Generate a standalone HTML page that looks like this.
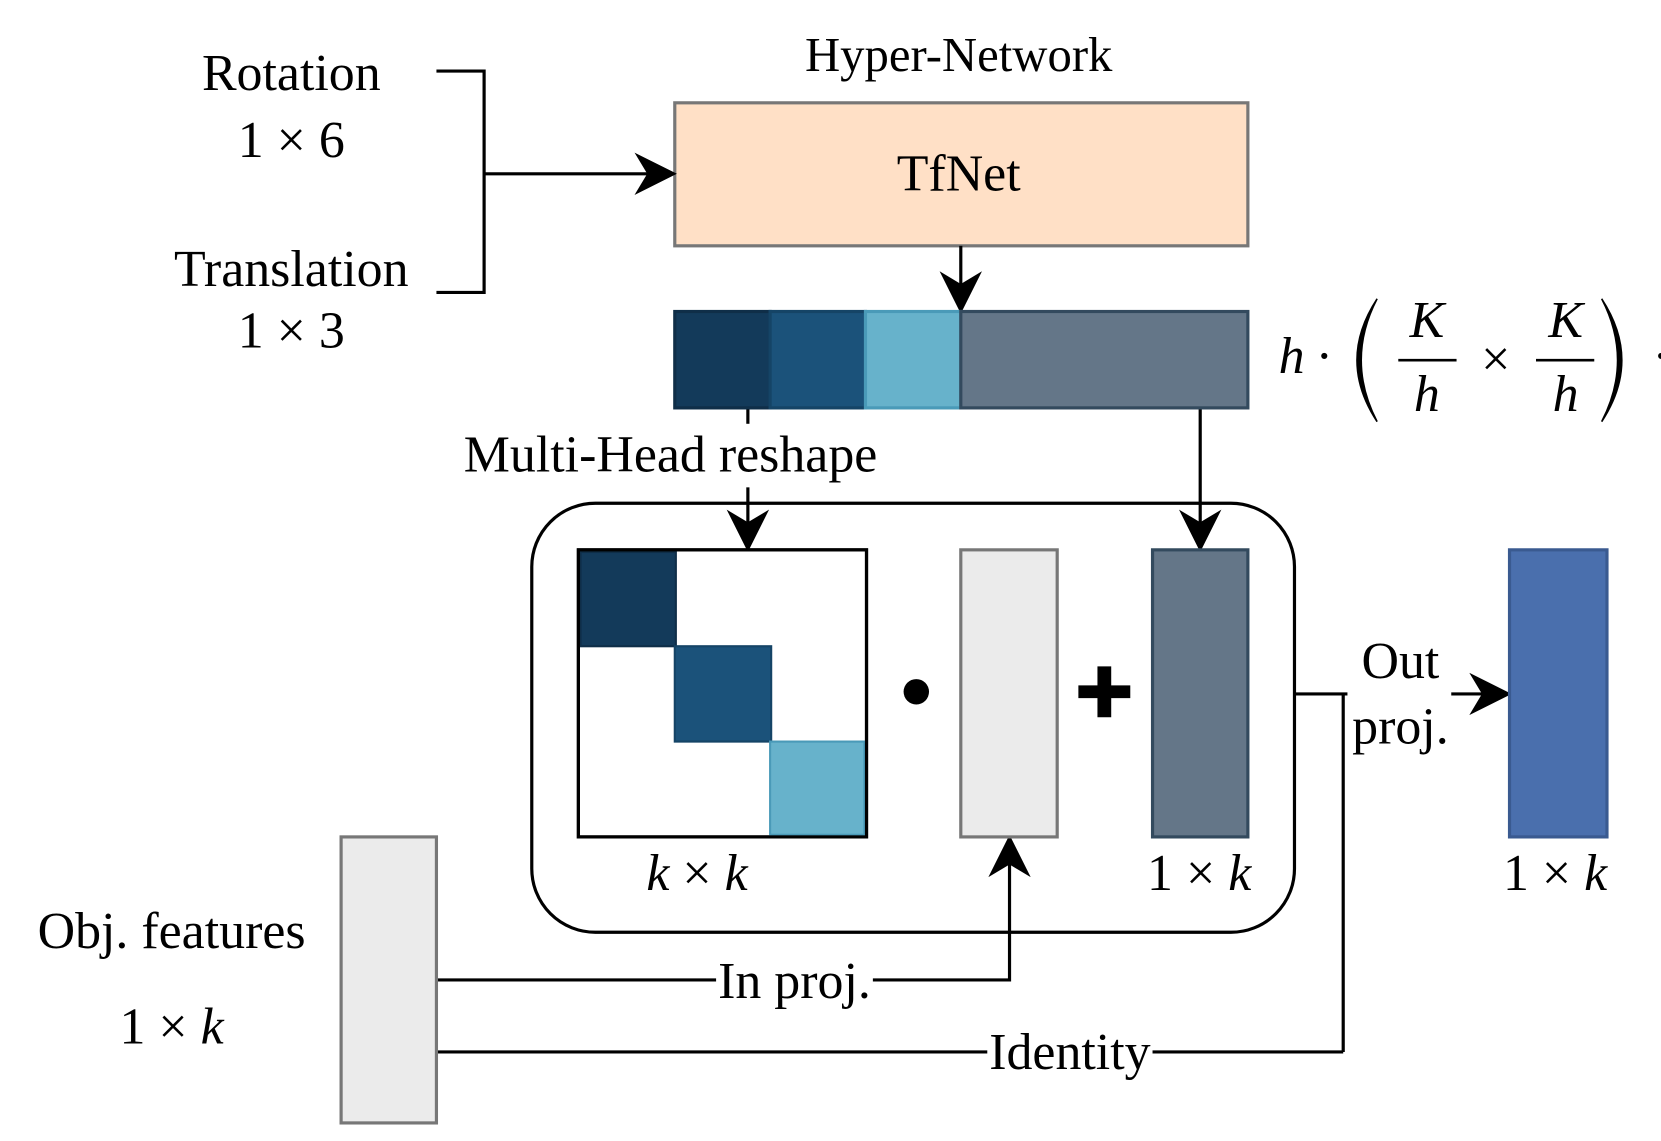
<!DOCTYPE html>
<html><head><meta charset="utf-8"><style>html,body{margin:0;padding:0;background:#fff;overflow:hidden}svg{display:block}</style></head><body>
<svg width="1661" height="1141" viewBox="0 0 1568 1077" xmlns="http://www.w3.org/2000/svg" font-family="'Liberation Serif', serif" font-size="49">
<defs>
<marker id="b" viewBox="0 0 10 10" refX="9" refY="5" markerWidth="40" markerHeight="40" markerUnits="userSpaceOnUse" orient="auto"><path d="M0,0 L10,5 L0,10 L3,5 z" fill="#000"/></marker></defs>
<rect width="1568" height="1077" fill="#fff"/>
<text x="905" y="67" text-anchor="middle" font-size="46">Hyper-Network</text>
<rect x="637" y="97" width="541" height="135" fill="#ffe0c6" stroke="#777" stroke-width="3"/>
<text x="905" y="180" text-anchor="middle">TfNet</text>
<g text-anchor="middle"><text x="275" y="85">Rotation</text><text x="275" y="148">1 × 6</text><text x="275" y="270">Translation</text><text x="275" y="328">1 × 3</text></g>
<g stroke="#000" stroke-width="3" fill="none">
<path d="M412,67 H457 V276 H412"/>
<line x1="457" y1="164" x2="635" y2="164" marker-end="url(#b)"/>
<line x1="907" y1="232" x2="907" y2="292" marker-end="url(#b)"/>
<line x1="706" y1="385" x2="706" y2="400"/>
<line x1="706" y1="460" x2="706" y2="517" marker-end="url(#b)"/>
<line x1="1133" y1="385" x2="1133" y2="517" marker-end="url(#b)"/>
<rect x="502" y="475" width="720" height="405" rx="60"/>
<path d="M1222,655 H1272 M1268,655 V993"/>
<line x1="1370" y1="655" x2="1423" y2="655" marker-end="url(#b)"/>
<path d="M412,925 H953 V792" marker-end="url(#b)"/>
<line x1="412" y1="993" x2="1268" y2="993"/>
</g>
<rect x="637" y="294" width="90" height="91" fill="#133a5a" stroke="#0f2e48" stroke-width="3"/>
<rect x="727" y="294" width="90" height="91" fill="#1b527a" stroke="#154466" stroke-width="3"/>
<rect x="817" y="294" width="90" height="91" fill="#67b2cb" stroke="#4a9ab8" stroke-width="3"/>
<rect x="907" y="294" width="271" height="91" fill="#647688" stroke="#334a5e" stroke-width="3"/>
<text x="1207" y="352" font-style="italic">h</text>
<text x="1242" y="352">·</text>
<path d="M1300,282 Q1262,340 1300,398 Q1270,340 1300,282 Z" fill="#000" stroke="#000" stroke-width="1.5"/>
<path d="M1512,282 Q1550,340 1512,398 Q1542,340 1512,282 Z" fill="#000" stroke="#000" stroke-width="1.5"/>
<text x="1347" y="318" font-style="italic" text-anchor="middle">K</text>
<line x1="1320" y1="340" x2="1375" y2="340" stroke="#000" stroke-width="2.5"/>
<text x="1347" y="388" font-style="italic" text-anchor="middle">h</text>
<text x="1412" y="355" text-anchor="middle">×</text>
<text x="1478" y="318" font-style="italic" text-anchor="middle">K</text>
<line x1="1450" y1="340" x2="1505" y2="340" stroke="#000" stroke-width="2.5"/>
<text x="1478" y="388" font-style="italic" text-anchor="middle">h</text>
<text x="1560" y="352">·</text>
<rect x="436" y="405" width="394" height="50" fill="#fff"/>
<text x="633" y="445" text-anchor="middle">Multi-Head reshape</text>
<rect x="546" y="519" width="272" height="271" fill="#fff" stroke="#000" stroke-width="3"/>
<rect x="548" y="521" width="90" height="89" fill="#133a5a" stroke="#0f2e48" stroke-width="2"/>
<rect x="637" y="610" width="91" height="90" fill="#1b527a" stroke="#154466" stroke-width="2"/>
<rect x="727" y="700" width="89" height="88" fill="#67b2cb" stroke="#4a9ab8" stroke-width="2"/>
<rect x="546" y="519" width="272" height="271" fill="none" stroke="#000" stroke-width="3"/>
<circle cx="865" cy="653" r="12" fill="#000"/>
<rect x="907" y="519" width="91" height="271" fill="#ebebeb" stroke="#777" stroke-width="3"/>
<path d="M1018,647 H1067 V659 H1018 Z M1036,629 H1049 V677 H1036 Z" fill="#000"/>
<rect x="1088" y="519" width="90" height="271" fill="#647688" stroke="#334a5e" stroke-width="3"/>
<rect x="1425" y="519" width="92" height="271" fill="#4a6fad" stroke="#3a5a90" stroke-width="3"/>
<rect x="322" y="790" width="90" height="270" fill="#ebebeb" stroke="#777" stroke-width="3"/>
<g text-anchor="middle">
<text x="658" y="840"><tspan font-style="italic">k</tspan> × <tspan font-style="italic">k</tspan></text>
<text x="1132" y="840">1 × <tspan font-style="italic">k</tspan></text>
<text x="1468" y="840">1 × <tspan font-style="italic">k</tspan></text>
<text x="1322" y="640">Out</text><text x="1322" y="702">proj.</text>
<text x="162" y="895">Obj. features</text>
<text x="162" y="985">1 × <tspan font-style="italic">k</tspan></text>
</g>
<rect x="676" y="905" width="148" height="40" fill="#fff"/>
<text x="750" y="942" text-anchor="middle">In proj.</text>
<rect x="932" y="973" width="156" height="40" fill="#fff"/>
<text x="1010" y="1009" text-anchor="middle">Identity</text>
</svg>
</body></html>
